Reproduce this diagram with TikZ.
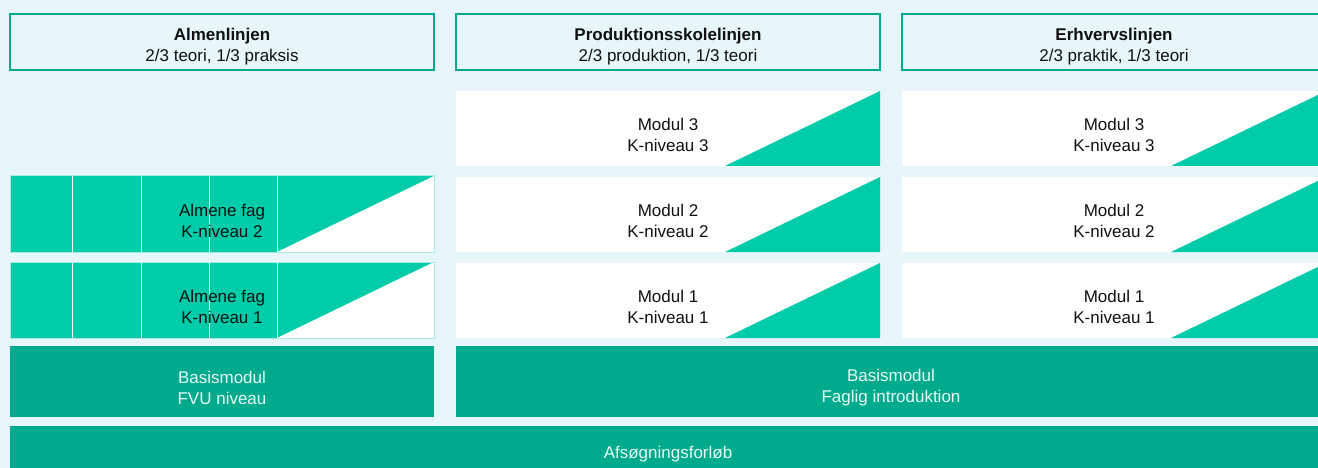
\documentclass[tikz,border=0pt]{standalone}
\usepackage{fontspec}
\setmainfont{Liberation Sans}
\definecolor{bg}{HTML}{E6F6FA}
\definecolor{tealdark}{HTML}{00AA8C}
\definecolor{teallight}{HTML}{00CCAA}
\definecolor{edgelight}{HTML}{A8ECE2}
\definecolor{txt}{HTML}{111111}
\definecolor{wtxt}{HTML}{E8F8F6}
\begin{document}
\begin{tikzpicture}[x=1pt,y=-1pt,
 box/.style={rectangle, inner sep=0pt, outer sep=0pt, anchor=north west},
 head/.style={box, draw=tealdark, line width=2pt, fill=bg, minimum width=424pt, minimum height=56pt},
 modul/.style={box, fill=white, minimum width=424pt, minimum height=75pt},
 almen/.style={box, fill=teallight, minimum width=424pt, minimum height=76pt},
 basis/.style={box, fill=tealdark, minimum height=71pt},
 tri/.style={fill=teallight},
 sep/.style={draw=white, line width=1pt},
 lbl/.style={font=\fontsize{17}{21}\selectfont, align=center, text=txt, inner sep=0pt},
 wlbl/.style={lbl, text=wtxt},
]
\useasboundingbox (0,0) rectangle (1318,468);
\clip (0,0) rectangle (1318,468);
\fill[bg] (0,0) rectangle (1318,468);

% headers
\node[head] (h1) at (10,14) {};
\node[head] (h2) at (456,14) {};
\node[head] (h3) at (902,14) {};
\node[lbl] (th1) at ([yshift=-5pt]h1.center) {\textbf{Almenlinjen}\\2/3 teori, 1/3 praksis};
\node[lbl] (th2) at ([yshift=-5pt]h2.center) {\textbf{Produktionsskolelinjen}\\2/3 produktion, 1/3 teori};
\node[lbl] (th3) at ([yshift=-5pt]h3.center) {\textbf{Erhvervslinjen}\\2/3 praktik, 1/3 teori};

% modules, middle and right columns
\foreach \c/\x in {p/456, e/902}{
  \foreach \r/\y in {3/91, 2/177, 1/263}{
    \node[modul] (\c\r) at (\x,\y) {};
    \fill[tri] ([xshift=269pt]\c\r.south west) -- (\c\r.north east) -- (\c\r.south east) -- cycle;
    \node[lbl] (t\c\r) at ([yshift=-6pt]\c\r.center) {Modul \r\\K-niveau \r};
  }
}

% almene fag, left column
\foreach \r/\y in {2/176, 1/262}{
  \node[almen] (a\r) at (10,\y) {};
  \fill[white] ([xshift=267pt]a\r.south west) -- (a\r.north east) -- (a\r.south east) -- cycle;
  \foreach \d in {62,131,199,267}{
    \draw[sep] ([xshift=\d pt]a\r.north west) -- ([xshift=\d pt]a\r.south west);
  }
  \draw[edgelight, line width=1pt] (a\r.north west) rectangle (a\r.south east);
  \node[lbl] (ta\r) at ([yshift=-7pt]a\r.center) {Almene fag\\K-niveau \r};
}

% basis modules
\node[basis, minimum width=424pt] (b1) at (10,346) {};
\node[basis, minimum width=870pt] (b2) at (456,346) {};
\node[wlbl] (tb1) at ([yshift=-6pt]b1.center) {Basismodul\\FVU niveau};
\node[wlbl] (tb2) at ([yshift=-6pt]b2.center) {Basismodul\\Faglig introduktion};

% afsoegning
\node[basis, minimum width=1316pt, minimum height=46pt] (af) at (10,426) {};
\node[wlbl] (taf) at ([yshift=-5pt]af.center) {Afsøgningsforløb};
\end{tikzpicture}
\end{document}
